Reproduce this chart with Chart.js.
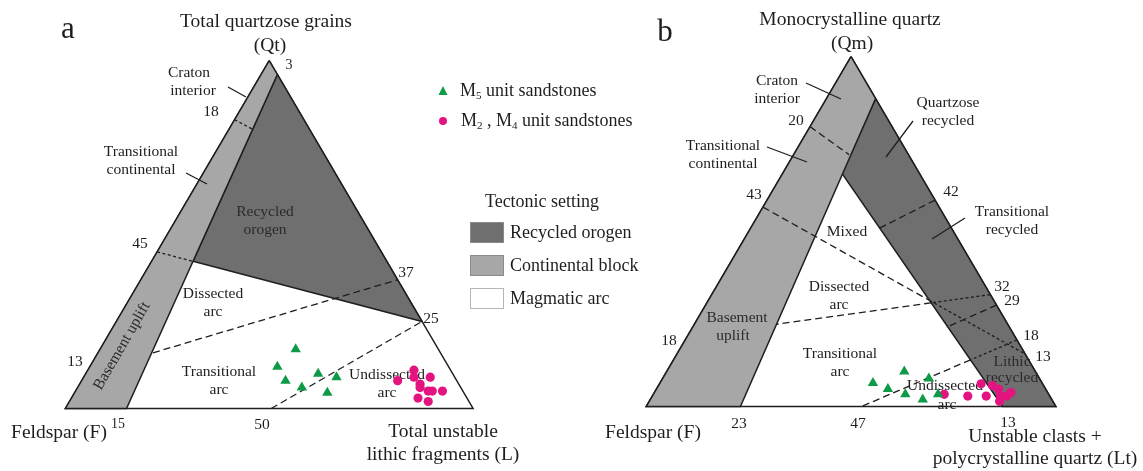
<!DOCTYPE html>
<html>
<head>
<meta charset="utf-8">
<script src="https://cdn.jsdelivr.net/npm/chart.js@4.4.0/dist/chart.umd.min.js"></script>
<style>
    html, body { margin: 0; padding: 0; background: #fff; }
    #khung { width: 1143px; height: 471px; }
</style>
</head>
<body>
<div id="khung"><canvas id="bieuDo" width="1143" height="471"></canvas></div>
<script>
// ===== số liệu: thành phần % [Q, F, L] =====

// biểu đồ a (Qt - F - L)
const ranhLucDiaA = [[96, 0, 4], [0, 85, 15]];
const duong45A = [[45, 55, 0], [25, 0, 75]];
const duong18A = [[83, 17, 0], [80.3, 14, 5.7]];
const duong13_37A = [[16, 70.5, 13.5], [37, 0, 63]];
const duong50_25A = [[0, 49.5, 50.5], [25, 0, 75]];
const diemM5A = [[17, 35, 48], [12, 42, 46], [10, 33, 57], [9, 29, 62], [8, 42, 50], [6, 39, 55], [4.5, 33.5, 62]];
const diemM24A = [[8, 14.5, 77.5], [11, 9, 80], [9, 10, 81], [7, 9.5, 83.5], [9, 6, 85], [6, 10, 84],
    [5, 8.5, 86.5], [5, 7.5, 87.5], [5, 5, 90], [3, 12, 85], [2, 10, 88]];

// biểu đồ b (Qm - F - Lt)
const ranhLucDiaB = [[88, 0, 12], [0, 77, 23]];
const dinhTrangB = [66.6, 18.9, 14.5];
const dayOrogenB = [0, 13, 87];
const duong20B = [[80, 20, 0], [72, 14.5, 13.5]];
const duong43B = [[57, 43, 0], [15, 0, 85]];
const duong42B = [[59, 0, 41], [51, 17.5, 31.5]];
const duong32B = [[32, 0, 68], [23.5, 56.5, 20]];
const duong29B = [[29, 0, 71], [22.6, 15.5, 61.9]];
const duong18B = [[19, 0, 81], [0, 47.5, 52.5]];
const diemM5B = [[6.7, 41.3, 52], [10, 32, 58], [5, 38.5, 56.5], [8, 27, 65], [3.5, 35, 61.5], [2, 31.5, 66.5], [3.5, 27, 69.5]];
const diemM24B = [[3.5, 25.5, 71], [3, 20, 77], [6.5, 15, 78.5], [3, 15.5, 81.5], [6, 12.5, 81.5], [5, 11.5, 83.5],
    [3, 12, 85], [1.5, 13, 85.5], [3, 10.5, 86.5], [4, 9, 87]];

// ===== bố cục =====
const tamGiacA = { x0: 60, y0: 413, w: 412, h: 357 };
const tamGiacB = { x0: 647, y0: 411, w: 414, h: 359 };

const mauDen = "#1e1e1e";
const mauXamNhat = "#a7a7a7";
const mauXamDam = "#6f6f6f";
const mauXanh = "#0f9a48";
const mauHong = "#e3147f";
const phong = "'Liberation Serif', 'Times New Roman', serif";

// đổi [Q, F, L] sang toạ độ trên trục
function doiToaDo(tg, p) {
    const tong = p[0] + p[1] + p[2];
    const q = p[0] / tong;
    const l = p[2] / tong;
    return { x: tg.x0 + (l + q / 2) * tg.w, y: tg.y0 - q * tg.h };
}

function giaoDiem(p1, p2, p3, p4) {
    const d = (p1.x - p2.x) * (p3.y - p4.y) - (p1.y - p2.y) * (p3.x - p4.x);
    const t = ((p1.x - p3.x) * (p3.y - p4.y) - (p1.y - p3.y) * (p3.x - p4.x)) / d;
    return { x: p1.x + t * (p2.x - p1.x), y: p1.y + t * (p2.y - p1.y) };
}

const datasets = [];

function themVung(diem, mau) {
    datasets.push({
        data: [...diem, diem[0]],
        fill: "shape",
        backgroundColor: mau,
        borderColor: mauDen,
        borderWidth: 1.5,
        pointRadius: 0,
        order: 30,
    });
}

function themDuong(diem, kieu) {
    datasets.push({
        data: diem,
        fill: false,
        borderColor: mauDen,
        borderWidth: 1.3,
        borderDash: kieu === "cham" ? [3, 2.5] : [7, 4],
        pointRadius: 0,
        order: 10,
    });
}

function themDiem(tg, ds, kieu, mau, r) {
    datasets.push({
        data: ds.map((p) => doiToaDo(tg, p)),
        showLine: false,
        pointStyle: kieu,
        pointRadius: r,
        pointBackgroundColor: mau,
        pointBorderWidth: 0,
        laDiem: true,
        order: 0,
    });
}

// --- a ---
const tA = (p) => doiToaDo(tamGiacA, p);
const dinhA = [tA([100, 0, 0]), tA([0, 100, 0]), tA([0, 0, 100])];
const giaoA = giaoDiem(tA(ranhLucDiaA[0]), tA(ranhLucDiaA[1]), tA(duong45A[0]), tA(duong45A[1]));
themVung([dinhA[0], tA(ranhLucDiaA[0]), tA(ranhLucDiaA[1]), dinhA[1]], mauXamNhat);
themVung([tA(ranhLucDiaA[0]), giaoA, tA(duong45A[1])], mauXamDam);
themVung(dinhA, "rgba(0,0,0,0)");
themDuong([tA(duong18A[0]), tA(duong18A[1])], "cham");
themDuong([tA(duong45A[0]), giaoA], "cham");
themDuong(duong13_37A.map(tA), "gach");
themDuong(duong50_25A.map(tA), "gach");
themDiem(tamGiacA, diemM5A, "triangle", mauXanh, 6);
themDiem(tamGiacA, diemM24A, "circle", mauHong, 4.6);

// --- b ---
const tB = (p) => doiToaDo(tamGiacB, p);
const dinhB = [tB([100, 0, 0]), tB([0, 100, 0]), tB([0, 0, 100])];
const wB = tB(dinhTrangB);
const dayB = tB(dayOrogenB);
themVung([dinhB[0], tB(ranhLucDiaB[0]), tB(ranhLucDiaB[1]), dinhB[1]], mauXamNhat);
themVung([tB(ranhLucDiaB[0]), wB, dayB, dinhB[2]], mauXamDam);
themVung(dinhB, "rgba(0,0,0,0)");
themDuong(duong20B.map(tB), "gach");
themDuong(duong42B.map(tB), "gach");
themDuong(duong29B.map(tB), "gach");
// các đường cắt qua ranh giới vùng tái chế: chấm trong vùng xám, gạch ở ngoài
[duong43B, duong32B, duong18B].forEach((d) => {
    const p1 = tB(d[0]);
    const p2 = tB(d[1]);
    const g = giaoDiem(p1, p2, wB, dayB);
    const trongXam = d[0][1] === 0 ? [p1, g] : [g, p2];
    const ngoai = d[0][1] === 0 ? [g, p2] : [p1, g];
    themDuong(trongXam, "cham");
    themDuong(ngoai, "gach");
});
themDiem(tamGiacB, diemM5B, "triangle", mauXanh, 6);
themDiem(tamGiacB, diemM24B, "circle", mauHong, 4.6);

// ===== chữ =====
const coTieuDe = 19.5;
const chuThich = [
    { t: "a", x: 68, y: 30, s: 31 },
    { t: "Total quartzose grains", x: 266, y: 22, s: coTieuDe },
    { t: "(Qt)", x: 270, y: 46, s: coTieuDe },
    { t: "3", x: 289, y: 65, s: 14 },
    { t: "Craton", x: 189, y: 73 },
    { t: "interior", x: 193, y: 91 },
    { t: "18", x: 211, y: 112 },
    { t: "Transitional", x: 141, y: 152 },
    { t: "continental", x: 141, y: 170 },
    { t: "Recycled", x: 265, y: 212, c: "#2b2b2b" },
    { t: "orogen", x: 265, y: 230, c: "#2b2b2b" },
    { t: "45", x: 140, y: 244 },
    { t: "37", x: 406, y: 273 },
    { t: "Dissected", x: 213, y: 294 },
    { t: "arc", x: 213, y: 312 },
    { t: "25", x: 431, y: 319 },
    { t: "13", x: 75, y: 362 },
    { t: "Transitional", x: 219, y: 372 },
    { t: "arc", x: 219, y: 390 },
    { t: "Undissected", x: 387, y: 375 },
    { t: "arc", x: 387, y: 393 },
    { t: "Feldspar (F)", x: 59, y: 433, s: coTieuDe },
    { t: "15", x: 118, y: 424, s: 14 },
    { t: "50", x: 262, y: 425 },
    { t: "Total unstable", x: 443, y: 432, s: coTieuDe },
    { t: "lithic fragments (L)", x: 443, y: 455, s: coTieuDe },

    { t: "b", x: 665, y: 33, s: 31 },
    { t: "Monocrystalline quartz", x: 850, y: 20, s: coTieuDe },
    { t: "(Qm)", x: 852, y: 44, s: coTieuDe },
    { t: "Craton", x: 777, y: 81 },
    { t: "interior", x: 777, y: 99 },
    { t: "20", x: 796, y: 121 },
    { t: "Transitional", x: 723, y: 146 },
    { t: "continental", x: 723, y: 164 },
    { t: "Quartzose", x: 948, y: 103 },
    { t: "recycled", x: 948, y: 121 },
    { t: "43", x: 754, y: 195 },
    { t: "42", x: 951, y: 192 },
    { t: "Transitional", x: 1012, y: 212 },
    { t: "recycled", x: 1012, y: 230 },
    { t: "Mixed", x: 847, y: 232 },
    { t: "Dissected", x: 839, y: 287 },
    { t: "arc", x: 839, y: 305 },
    { t: "Basement", x: 737, y: 318, c: "#2b2b2b" },
    { t: "uplift", x: 733, y: 336, c: "#2b2b2b" },
    { t: "18", x: 669, y: 341 },
    { t: "Transitional", x: 840, y: 354 },
    { t: "arc", x: 840, y: 372 },
    { t: "32", x: 1002, y: 287 },
    { t: "29", x: 1012, y: 301 },
    { t: "18", x: 1031, y: 336 },
    { t: "13", x: 1043, y: 357 },
    { t: "Lithic", x: 1012, y: 362, c: "#2b2b2b" },
    { t: "recycled", x: 1012, y: 378, c: "#2b2b2b" },
    { t: "Undissected", x: 945, y: 386 },
    { t: "arc", x: 947, y: 405 },
    { t: "23", x: 739, y: 424 },
    { t: "47", x: 858, y: 424 },
    { t: "13", x: 1008, y: 423 },
    { t: "Feldspar (F)", x: 653, y: 433, s: coTieuDe },
    { t: "Unstable clasts +", x: 1035, y: 437, s: coTieuDe },
    { t: "polycrystalline quartz (Lt)", x: 1035, y: 459, s: coTieuDe },
];

// các vạch chỉ từ chữ tới vùng
const vachChi = [
    [228, 87, 246, 97], [186, 173, 207, 184],
    [806, 83, 841, 99], [767, 147, 807, 162], [913, 121, 886, 157], [965, 218, 932, 239],
];

let daVeChu = false;

function veChu(ctx) {
    ctx.save();
    ctx.textAlign = "center";
    ctx.textBaseline = "middle";
    chuThich.forEach((c) => {
        ctx.font = (c.s || 15.5) + "px " + phong;
        ctx.fillStyle = c.c || mauDen;
        ctx.fillText(c.t, c.x, c.y);
    });
    // chữ xoay dọc dải Basement uplift (a)
    ctx.translate(122, 346);
    ctx.rotate(-60 * Math.PI / 180);
    ctx.font = "15.5px " + phong;
    ctx.fillStyle = "#2b2b2b";
    ctx.fillText("Basement uplift", 0, 0);
    ctx.restore();

    ctx.save();
    ctx.strokeStyle = mauDen;
    ctx.lineWidth = 1.3;
    vachChi.forEach((v) => {
        ctx.beginPath();
        ctx.moveTo(v[0], v[1]);
        ctx.lineTo(v[2], v[3]);
        ctx.stroke();
    });
    ctx.restore();
}

function chuChiSo(ctx, x, y, phan) {
    // phan: [[chữ, chỉ số dưới?], ...]
    let cx = x;
    phan.forEach(([t, duoi]) => {
        ctx.font = (duoi ? 11 : 18) + "px " + phong;
        ctx.fillText(t, cx, duoi ? y + 5 : y);
        cx += ctx.measureText(t).width;
    });
}

function veChuGiai(ctx) {
    ctx.save();
    ctx.fillStyle = mauXanh;
    ctx.beginPath();
    ctx.moveTo(443, 86);
    ctx.lineTo(447.5, 95);
    ctx.lineTo(438.5, 95);
    ctx.closePath();
    ctx.fill();
    ctx.fillStyle = mauHong;
    ctx.beginPath();
    ctx.arc(443, 121, 4, 0, Math.PI * 2);
    ctx.fill();

    ctx.fillStyle = mauDen;
    ctx.textAlign = "left";
    ctx.textBaseline = "middle";
    chuChiSo(ctx, 460, 91, [["M"], ["5", true], [" unit sandstones"]]);
    chuChiSo(ctx, 461, 121, [["M"], ["2", true], [" , M"], ["4", true], [" unit sandstones"]]);

    ctx.textAlign = "center";
    ctx.font = "18px " + phong;
    ctx.fillText("Tectonic setting", 542, 202);

    const hop = [
        { y: 222, mau: mauXamDam, t: "Recycled orogen" },
        { y: 255, mau: mauXamNhat, t: "Continental block" },
        { y: 288, mau: "#ffffff", t: "Magmatic arc" },
    ];
    ctx.textAlign = "left";
    ctx.font = "18px " + phong;
    hop.forEach((h) => {
        ctx.fillStyle = h.mau;
        ctx.fillRect(470, h.y, 34, 21);
        ctx.strokeStyle = h.mau === "#ffffff" ? "#b5b5b5" : "#8a8a8a";
        ctx.lineWidth = 1;
        ctx.strokeRect(470.5, h.y + 0.5, 33, 20);
        ctx.fillStyle = mauDen;
        ctx.fillText(h.t, 510, h.y + 11);
    });
    ctx.restore();
}

const pluginChu = {
    id: "pluginChu",
    beforeDraw() {
        daVeChu = false;
    },
    beforeDatasetDraw(chart, args) {
        const ds = chart.data.datasets[args.index];
        if (ds.laDiem && !daVeChu) {
            veChu(chart.ctx);
            daVeChu = true;
        }
    },
    afterDraw(chart) {
        if (!daVeChu) veChu(chart.ctx);
        veChuGiai(chart.ctx);
    },
};

new Chart(document.getElementById("bieuDo"), {
    type: "line",
    data: { datasets: datasets },
    options: {
        responsive: false,
        animation: false,
        devicePixelRatio: 1,
        layout: { padding: 0 },
        elements: { line: { tension: 0 } },
        plugins: {
            legend: { display: false },
            tooltip: { enabled: false },
        },
        events: [],
        scales: {
            x: { type: "linear", display: false, min: 0, max: 1143 },
            y: { type: "linear", display: false, min: 0, max: 471, reverse: true },
        },
    },
    plugins: [pluginChu],
});
</script>
</body>
</html>
